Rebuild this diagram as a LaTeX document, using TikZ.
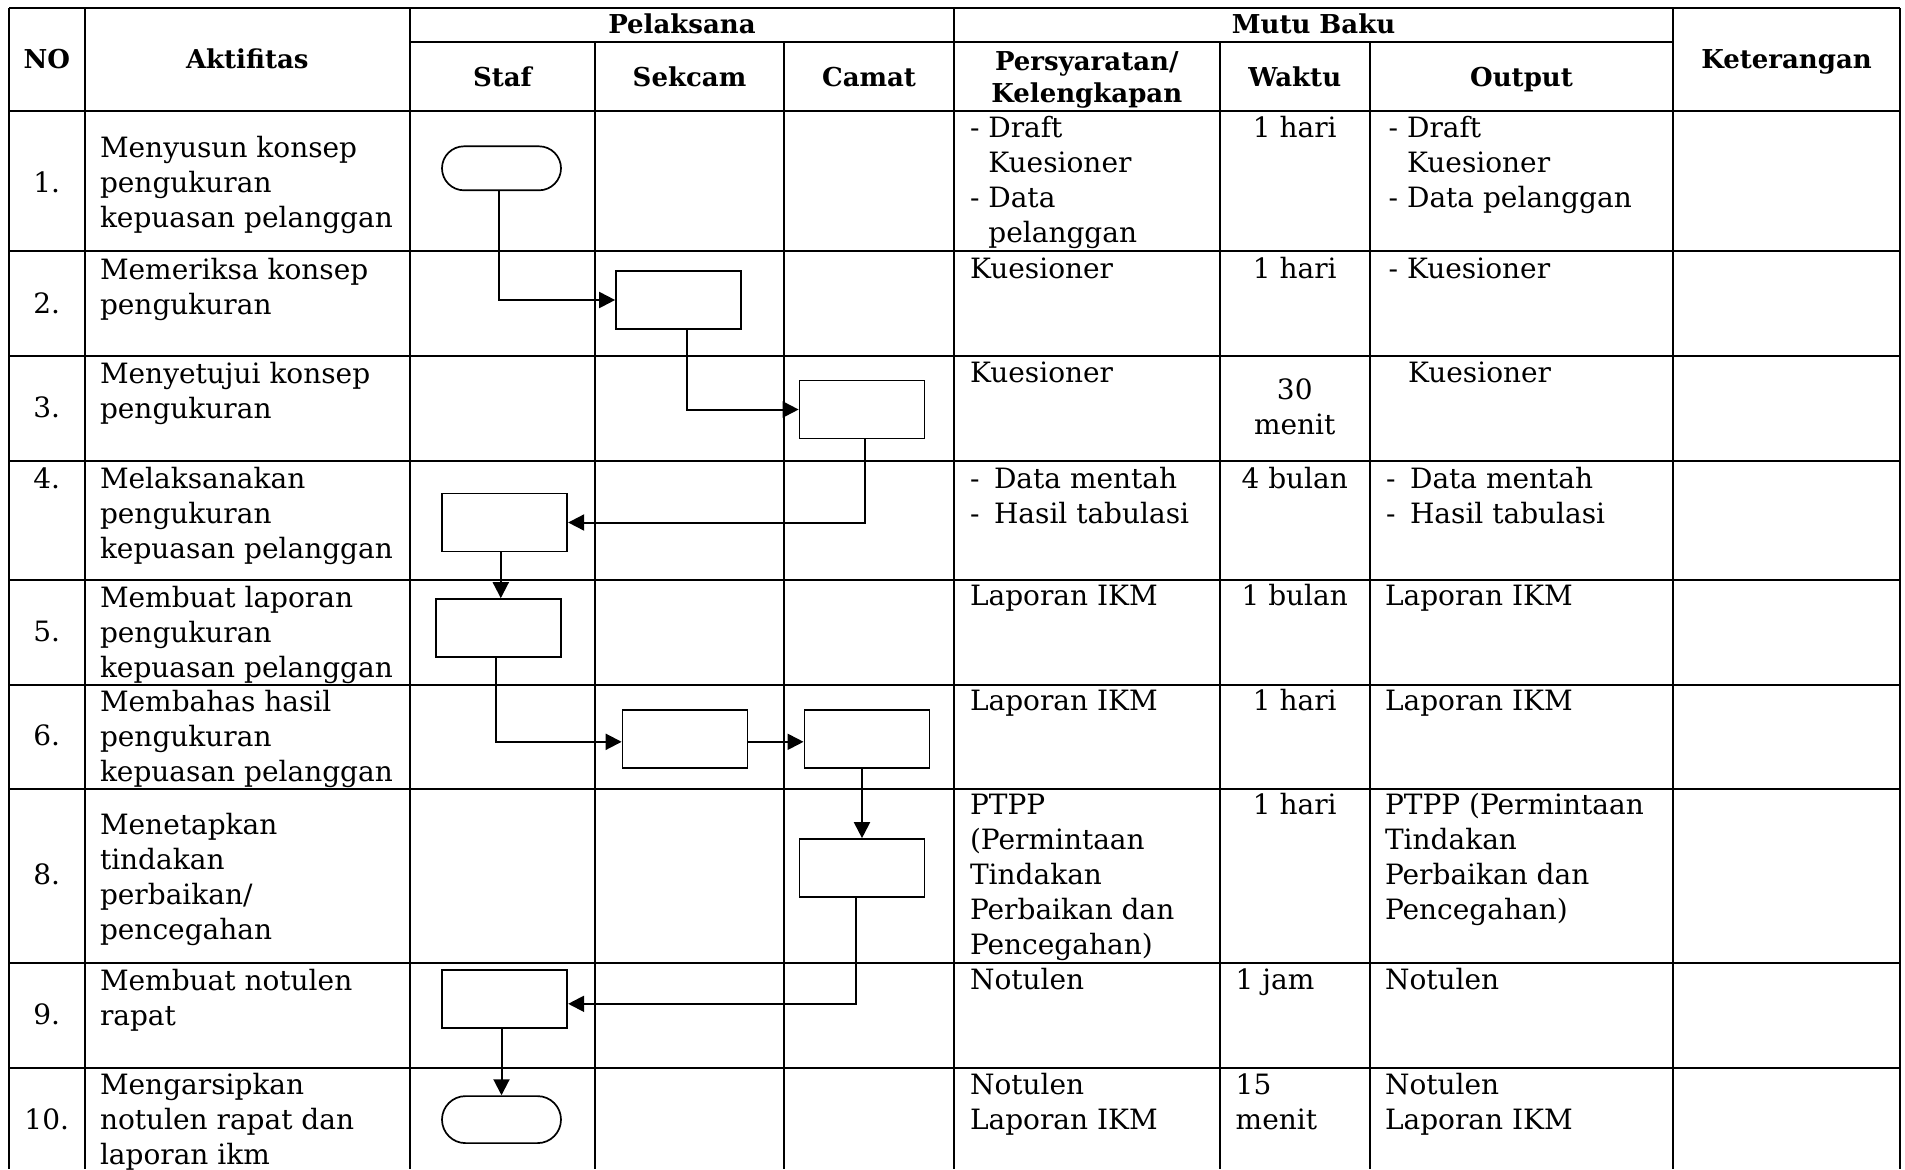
\documentclass[tikz,border=0pt]{standalone}
\usepackage{fontspec}
\setmainfont{DejaVu Serif}
\usetikzlibrary{arrows.meta,shapes.misc}
\newcommand\bodyfont{\fontsize{14}{17.5}\selectfont}
\newcommand\headfont{\bfseries\fontsize{13}{16}\selectfont}
\newcommand\dsh{\hphantom{- }}
\newcommand\wdsh{-\hspace{0.52em}}
\begin{document}
\begin{tikzpicture}[x=0.5pt,y=-0.5pt,
  grid/.style={line width=1pt},
  lt/.style={anchor=north west, inner sep=0pt, outer sep=0pt, font=\bodyfont, align=left},
  ct/.style={anchor=north, inner sep=0pt, outer sep=0pt, font=\bodyfont, align=center},
  hd/.style={anchor=north, inner sep=0pt, outer sep=0pt, font=\headfont, align=center},
  proc/.style={draw, line width=0.85pt, rectangle, minimum width=62.5pt, minimum height=29pt, inner sep=0pt},
  term/.style={draw, line width=0.85pt, rounded rectangle, minimum width=59.5pt, minimum height=22pt, inner sep=0pt},
  arr/.style={line width=1pt, -{Triangle[length=8pt,width=8pt]}}
]
\useasboundingbox (0,0) rectangle (1905,1169);
\fill[white] (0,0) rectangle (1905,1169);
% grid
\draw[grid] (9,8) -- (1900,8);
\draw[grid] (410,42) -- (1673,42);
\draw[grid] (9,111) -- (1900,111);
\foreach \y in {251,356,460.5,580,684.5,789,963,1068} \draw[grid] (9,\y) -- (1900,\y);
\foreach \x in {9,84.5,410,954,1673,1900} \draw[grid] (\x,8) -- (\x,1169);
\foreach \x in {595,784,1219.5,1370} \draw[grid] (\x,42) -- (\x,1169);
% headers
\node[hd] (hno) at (46.75,45.6) {\strut NO};
\node[hd] (hakt) at (247.25,45.6) {\strut Aktifitas};
\node[hd] (hpel) at (682,10.6) {\strut Pelaksana};
\node[hd] (hstaf) at (502.5,64.1) {\strut Staf};
\node[hd] (hsek) at (689.5,64.1) {\strut Sekcam};
\node[hd] (hcam) at (869,64.1) {\strut Camat};
\node[hd] (hmutu) at (1313.5,10.6) {\strut Mutu Baku};
\node[hd] (hpers) at (1086.75,47.6) {\strut Persyaratan/\\Kelengkapan};
\node[hd] (hwak) at (1294.75,64.1) {\strut Waktu};
\node[hd] (hout) at (1521.5,64.1) {\strut Output};
\node[hd] (hket) at (1786.5,45.6) {\strut Keterangan};
% numbers
\node[ct] (n1) at (46.75,168) {\strut 1.};
\node[ct] (n2) at (46.75,288.5) {\strut 2.};
\node[ct] (n3) at (46.75,393) {\strut 3.};
\node[ct] (n4) at (46.75,463.5) {\strut 4.};
\node[ct] (n5) at (46.75,617) {\strut 5.};
\node[ct] (n6) at (46.75,721) {\strut 6.};
\node[ct] (n8) at (46.75,860) {\strut 8.};
\node[ct] (n9) at (46.75,999.5) {\strut 9.};
\node[ct] (n10) at (46.75,1104.5) {\strut 10.};
% aktifitas
\node[lt] (a1) at (100,133) {\strut Menyusun konsep\\pengukuran\\kepuasan pelanggan};
\node[lt] (a2) at (100,254.5) {\strut Memeriksa konsep\\pengukuran};
\node[lt] (a3) at (100,358.5) {\strut Menyetujui konsep\\pengukuran};
\node[lt] (a4) at (100,463.5) {\strut Melaksanakan\\pengukuran\\kepuasan pelanggan};
\node[lt] (a5) at (100,582.5) {\strut Membuat laporan\\pengukuran\\kepuasan pelanggan};
\node[lt] (a6) at (100,686.5) {\strut Membahas hasil\\pengukuran\\kepuasan pelanggan};
\node[lt] (a8) at (100,809.5) {\strut Menetapkan\\tindakan\\perbaikan/\\pencegahan};
\node[lt] (a9) at (100,965.5) {\strut Membuat notulen\\rapat};
\node[lt] (a10) at (100,1070) {\strut Mengarsipkan\\notulen rapat dan\\laporan ikm};
% persyaratan
\node[lt] (p1) at (970,113) {\strut - Draft\\\dsh Kuesioner\\- Data\\\dsh pelanggan};
\node[lt] (p2) at (970,253.5) {\strut Kuesioner};
\node[lt] (p3) at (970,357.5) {\strut Kuesioner};
\node[lt] (p4) at (970,463.5) {\strut \wdsh Data mentah\\\wdsh Hasil tabulasi};
\node[lt] (p5) at (970,581) {\strut Laporan IKM};
\node[lt] (p6) at (970,685.5) {\strut Laporan IKM};
\node[lt] (p8) at (970,790) {\strut PTPP\\(Permintaan\\Tindakan\\Perbaikan dan\\Pencegahan)};
\node[lt] (p9) at (970,965) {\strut Notulen};
\node[lt] (p10) at (970,1069.5) {\strut Notulen\\Laporan IKM};
% waktu
\node[ct] (w1) at (1294.75,113) {\strut 1 hari};
\node[ct] (w2) at (1294.75,253.5) {\strut 1 hari};
\node[ct] (w3) at (1294.75,374.5) {\strut 30\\menit};
\node[ct] (w4) at (1294.75,463.5) {\strut 4 bulan};
\node[ct] (w5) at (1294.75,581) {\strut 1 bulan};
\node[ct] (w6) at (1294.75,685.5) {\strut 1 hari};
\node[ct] (w8) at (1294.75,790) {\strut 1 hari};
\node[lt] (w9) at (1235.7,965) {\strut 1 jam};
\node[lt] (w10) at (1235.7,1069.5) {\strut 15\\menit};
% output
\node[lt] (o1) at (1388.7,113) {\strut - Draft\\\dsh Kuesioner\\- Data pelanggan};
\node[lt] (o2) at (1388.7,253.5) {\strut - Kuesioner};
\node[lt] (o3) at (1408,357.5) {\strut Kuesioner};
\node[lt] (o4) at (1386,463.5) {\strut \wdsh Data mentah\\\wdsh Hasil tabulasi};
\node[lt] (o5) at (1385,581) {\strut Laporan IKM};
\node[lt] (o6) at (1385,685.5) {\strut Laporan IKM};
\node[lt] (o8) at (1385,790) {\strut PTPP (Permintaan\\Tindakan\\Perbaikan dan\\Pencegahan)};
\node[lt] (o9) at (1385,965) {\strut Notulen};
\node[lt] (o10) at (1385,1069.5) {\strut Notulen\\Laporan IKM};
% flowchart
\node[term] (t1) at (501.5,168.3) {};
\node[proc] (b2) at (678.5,300) {};
\node[proc] (b3) at (862,409.5) {};
\node[proc] (b4) at (504.8,522.5) {};
\node[proc] (b5) at (498.6,628) {};
\node[proc] (b6a) at (685,738.8) {};
\node[proc] (b6b) at (866.9,738.8) {};
\node[proc] (b8) at (862,868) {};
\node[proc] (b9) at (504.8,998.8) {};
\node[term, minimum height=23.5pt] (t10) at (501.5,1119.6) {};
\coordinate (c4) at ([xshift=-2pt]b4.south);
\draw[arr] ([xshift=-1.25pt]t1.south) |- (b2.west);
\draw[arr] ([xshift=4pt]b2.south) |- (b3.west);
\draw[arr] ([xshift=1.5pt]b3.south) |- (b4.east);
\draw[arr] (c4) -- (c4 |- b5.north);
\draw[arr] ([xshift=-1.5pt]b5.south) |- ([yshift=-1.5pt]b6a.west);
\draw[arr] ([yshift=-1.5pt]b6a.east) -- ([yshift=-1.5pt]b6b.west);
\draw[arr] (b8.north |- b6b.south) -- (b8.north);
\draw[arr] ([xshift=-3pt]b8.south) |- ([yshift=-2.5pt]b9.east);
\draw[arr] (t10.north |- b9.south) -- (t10.north);
\end{tikzpicture}
\end{document}
